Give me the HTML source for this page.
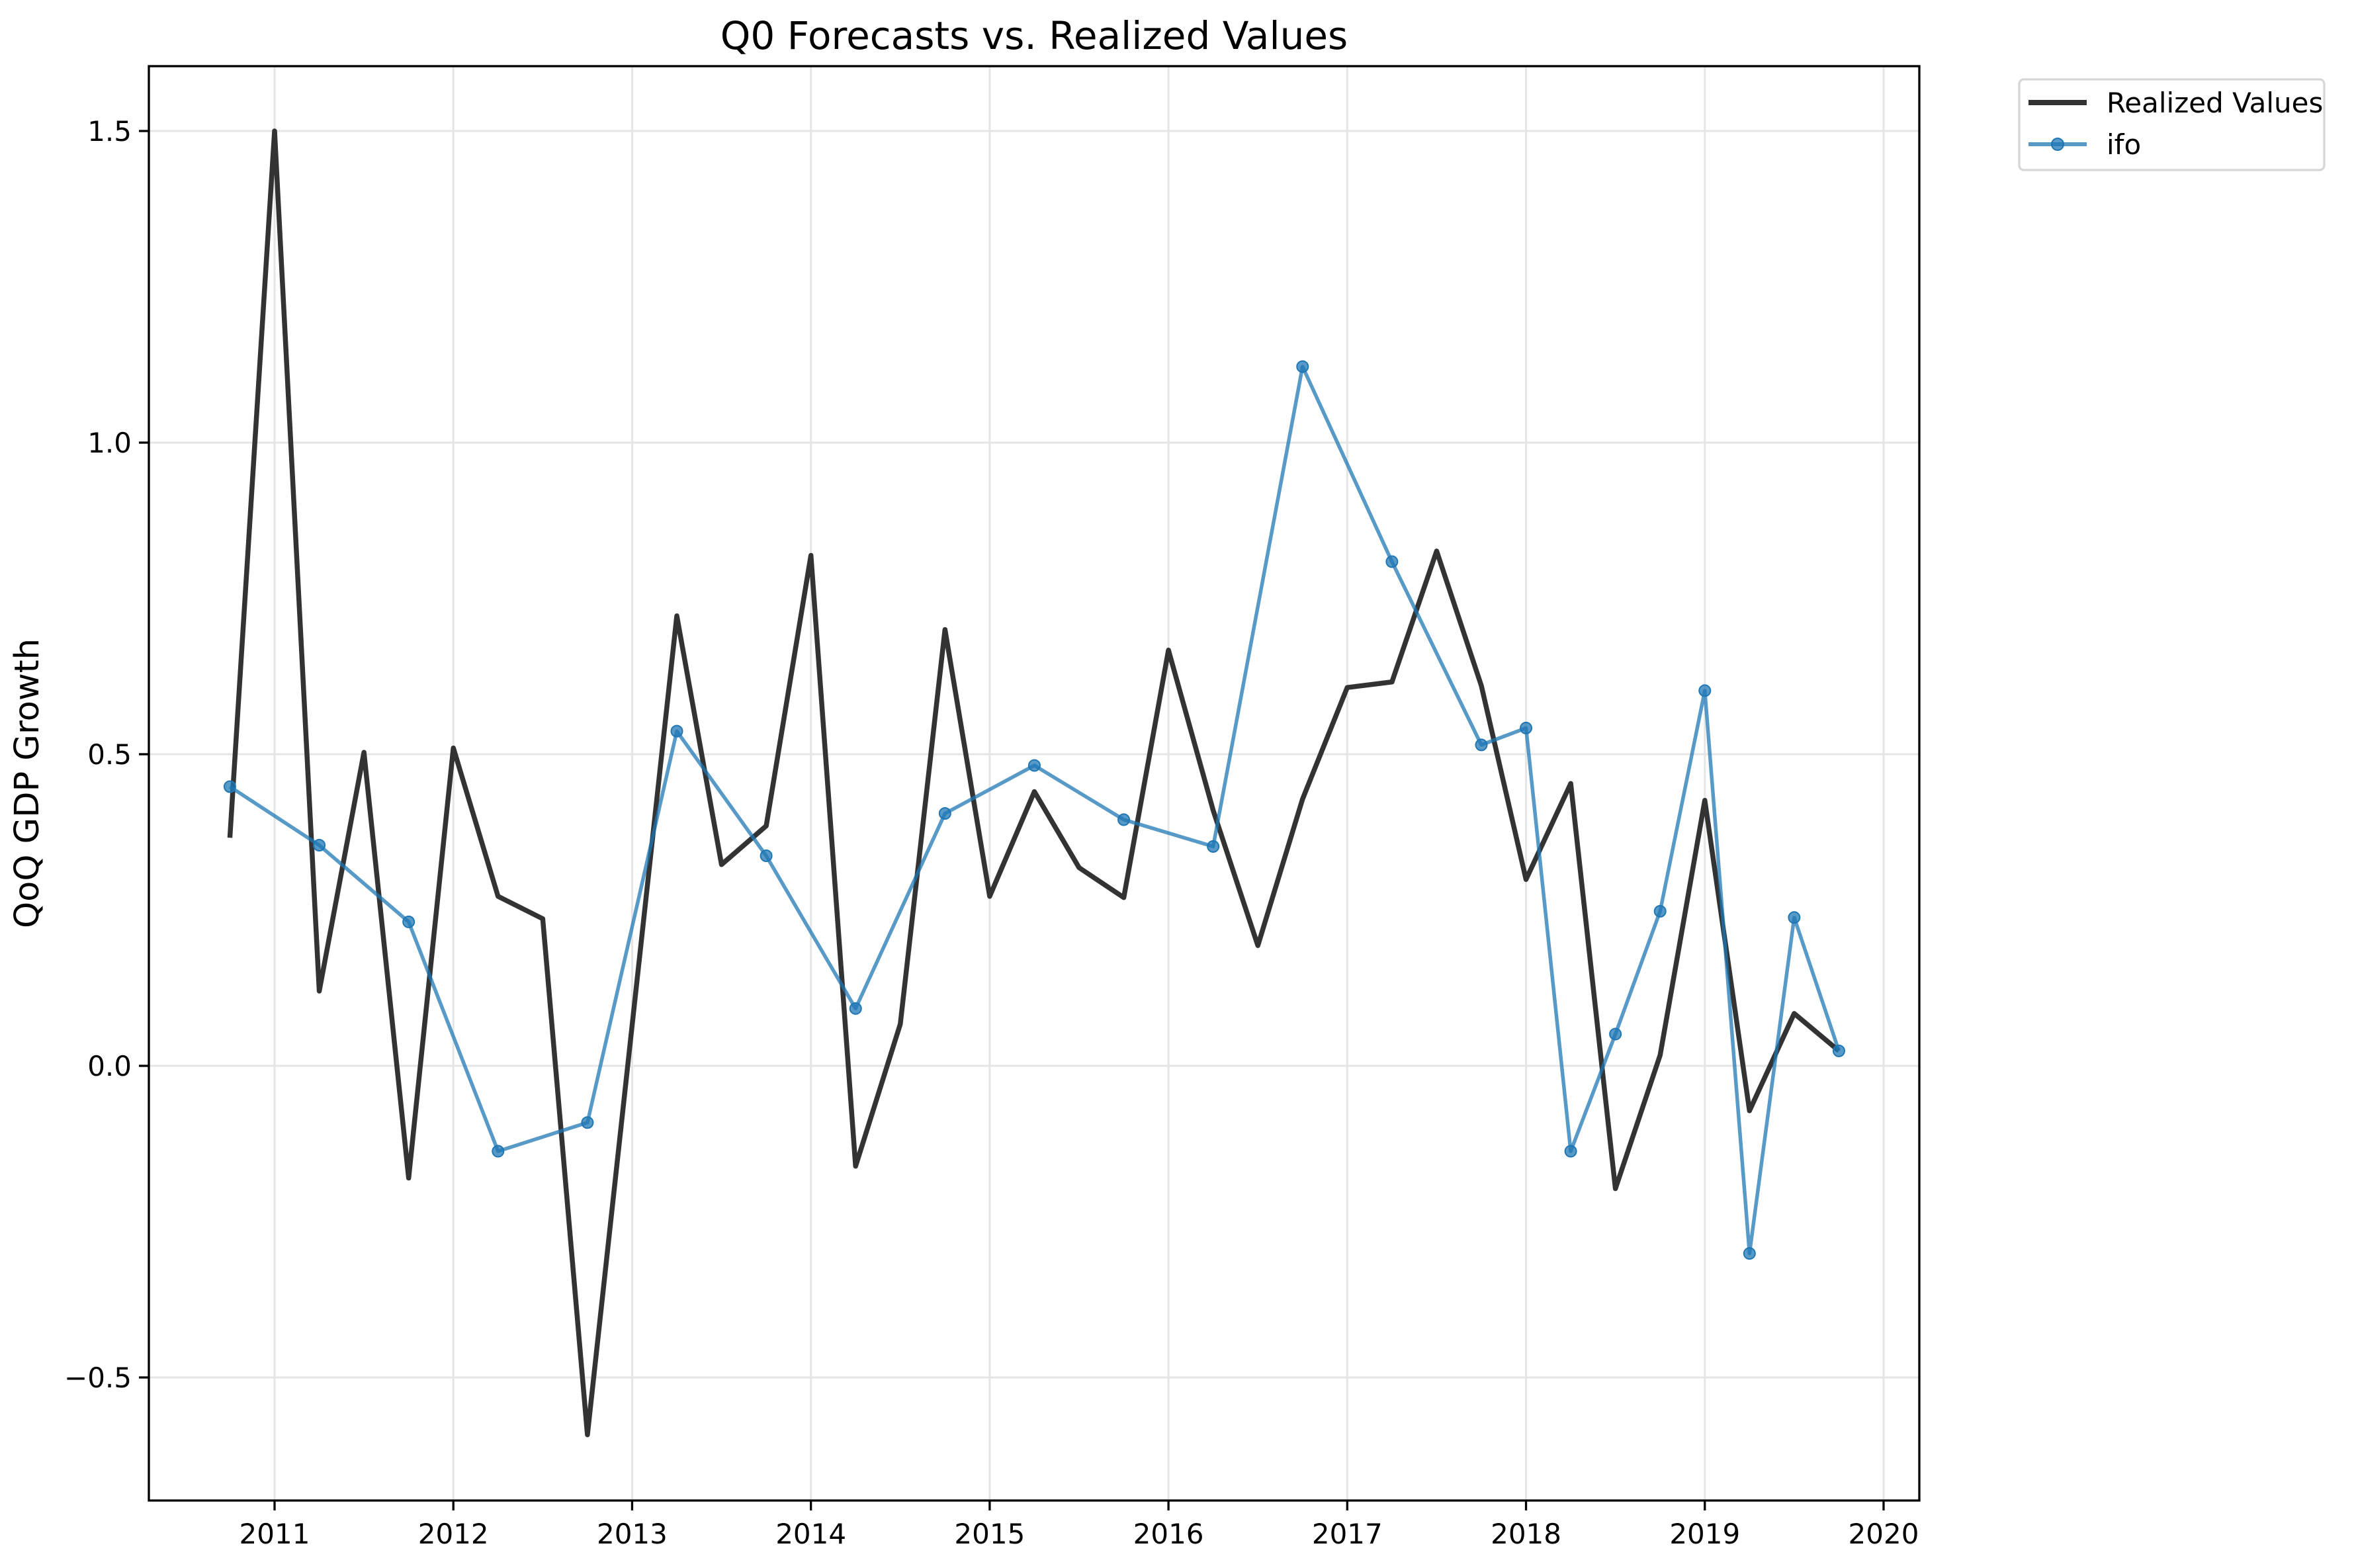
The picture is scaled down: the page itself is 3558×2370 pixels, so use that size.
<!DOCTYPE html>
<html><head><meta charset="utf-8"><style>
html,body{margin:0;padding:0;background:#fff;}
svg{display:block;font-family:"DejaVu Sans","Liberation Sans",sans-serif;}
</style></head><body>
<svg id="chart" width="3558" height="2370" viewBox="0 0 3558 2370" xmlns="http://www.w3.org/2000/svg">
<rect width="3558" height="2370" fill="#fff"/>
<g id="grid"></g>
<g id="ticks"></g>
<g id="series"></g>
<rect x="225" y="100" width="2676" height="2168" fill="none" stroke="#000" stroke-width="3.3"/>
<text x="1563" y="74" font-size="58" text-anchor="middle">Q0 Forecasts vs. Realized Values</text>
<text x="0" y="0" font-size="51" text-anchor="middle" transform="translate(58,1184) rotate(-90)">QoQ GDP Growth</text>
<g>
<rect x="3052" y="120" width="461" height="137" rx="7" fill="#fff" stroke="#d6d6d6" stroke-width="3.3"/>
<line x1="3066" y1="155" x2="3154" y2="155" stroke="#333" stroke-width="8"/>
<text x="3184" y="170" font-size="42">Realized Values</text>
<line x1="3066" y1="218" x2="3154" y2="218" stroke="#1f77b4" stroke-opacity="0.75" stroke-width="6"/>
<circle cx="3110" cy="218" r="9" fill="#1f77b4" fill-opacity="0.75" stroke="#1f77b4" stroke-width="2"/>
<text x="3184" y="233" font-size="42">ifo</text>
</g>
</svg>
<script>
const realizedDates = [2010.75,2011,2011.25,2011.5,2011.75,2012,2012.25,2012.5,2012.75,2013,2013.25,2013.5,2013.75,2014,2014.25,2014.5,2014.75,2015,2015.25,2015.5,2015.75,2016,2016.25,2016.5,2016.75,2017,2017.25,2017.5,2017.75,2018,2018.25,2018.5,2018.75,2019,2019.25,2019.5,2019.75];
const realizedValues = [0.366,1.5,0.12,0.503,-0.18,0.51,0.272,0.236,-0.592,0.065,0.722,0.323,0.385,0.819,-0.161,0.067,0.70,0.272,0.44,0.318,0.27,0.667,0.41,0.193,0.428,0.607,0.616,0.826,0.61,0.299,0.453,-0.197,0.017,0.426,-0.072,0.084,0.024];
const ifoDates = [2010.75,2011.25,2011.75,2012.25,2012.75,2013.25,2013.75,2014.25,2014.75,2015.25,2015.75,2016.25,2016.75,2017.25,2017.75,2018,2018.25,2018.5,2018.75,2019,2019.25,2019.5,2019.75];
const ifoValues = [0.448,0.354,0.231,-0.137,-0.091,0.537,0.337,0.092,0.405,0.482,0.395,0.352,1.122,0.809,0.515,0.542,-0.137,0.051,0.248,0.602,-0.301,0.238,0.024];
const xTicks = [2011,2012,2013,2014,2015,2016,2017,2018,2019,2020];
const yTicks = [-0.5,0,0.5,1.0,1.5];
const yTickLabels = ["\u22120.5","0.0","0.5","1.0","1.5"];

const NS="http://www.w3.org/2000/svg";
const X0=225,X1=2901,Y0=100,Y1=2268;
function xs(v){return 415+(v-2011)*270.22;}
function ys(v){return 1611-v*942;}
function mk(tag,attrs,parent){const e=document.createElementNS(NS,tag);for(const k in attrs)e.setAttribute(k,attrs[k]);parent.appendChild(e);return e;}
const grid=document.getElementById('grid'),ticks=document.getElementById('ticks'),series=document.getElementById('series');
xTicks.forEach(t=>{
  const x=xs(t);
  const g=mk('line',{x1:x,x2:x,y1:Y0,y2:Y1,stroke:'#e5e5e5','stroke-width':3},grid);
  
  
  const tk=mk('line',{x1:x,x2:x,y1:Y1,y2:Y1+15,stroke:'#000','stroke-width':3.3},ticks);
  
  
  const tx=mk('text',{x:x,y:2333,'font-size':42,'text-anchor':'middle'},ticks);
  tx.textContent=String(t);
  
  
});
yTicks.forEach((t,i)=>{
  const y=ys(t);
  const g=mk('line',{x1:X0,x2:X1,y1:y,y2:y,stroke:'#e5e5e5','stroke-width':3},grid);
  
  
  const tk=mk('line',{x1:X0-15,x2:X0,y1:y,y2:y,stroke:'#000','stroke-width':3.3},ticks);
  
  
  const tx=mk('text',{x:X0-26,y:y+15,'font-size':42,'text-anchor':'end'},ticks);
  tx.textContent=yTickLabels[i];
  
  
});
const rp=realizedDates.map((d,i)=>xs(d)+','+ys(realizedValues[i])).join(' ');
const rl=mk('polyline',{points:rp,fill:'none',stroke:'#333','stroke-width':7.5,'stroke-linejoin':'round'},series);


const ip=ifoDates.map((d,i)=>xs(d)+','+ys(ifoValues[i])).join(' ');
const il=mk('polyline',{points:ip,fill:'none',stroke:'#1f77b4','stroke-opacity':0.75,'stroke-width':5.5,'stroke-linejoin':'round'},series);


ifoDates.forEach((d,i)=>{
  const c=mk('circle',{cx:xs(d),cy:ys(ifoValues[i]),r:8.5,fill:'#1f77b4','fill-opacity':0.75,stroke:'#1f77b4','stroke-width':2},series);
  
  
});
</script>
</body></html>
